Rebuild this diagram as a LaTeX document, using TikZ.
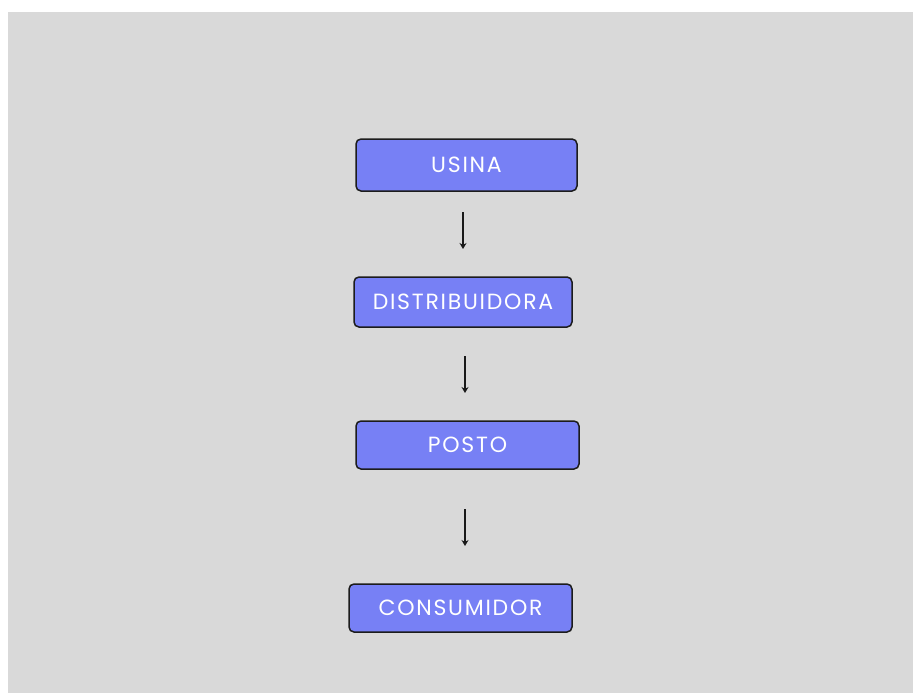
\documentclass[tikz,border=0pt]{standalone}
\usepackage{fontspec}
\setmainfont{Poppins}[LetterSpace=8]
\usetikzlibrary{arrows.meta}
\definecolor{bg}{HTML}{D9D9D9}
\definecolor{boxfill}{HTML}{7780F5}
\definecolor{boxline}{HTML}{1C1C1C}
\begin{document}
\begin{tikzpicture}[x=1pt,y=-1pt,
  stagebox/.style={draw=boxline,line width=1.5pt,fill=boxfill,rounded corners=5pt,
    text=white,font=\fontsize{22}{26}\selectfont,inner sep=0pt,anchor=center},
  flow/.style={line width=1.5pt,draw=black!90,-{Stealth[length=6pt,width=7pt]}}]
\useasboundingbox (0,0) rectangle (913,693);
\fill[white] (0,0) rectangle (913,693);
\fill[bg] (8,12) rectangle (913,693);
\node[stagebox,minimum width=221pt,minimum height=52pt] (usina) at (466.5,165) {USINA};
\node[stagebox,minimum width=218pt,minimum height=50pt] (dist) at (463,302) {DISTRIBUIDORA};
\node[stagebox,minimum width=223pt,minimum height=48pt] (posto) at (467.5,445) {POSTO};
\node[stagebox,minimum width=223pt,minimum height=48pt] (cons) at (460.5,608) {CONSUMIDOR};
\coordinate (a1s) at (463,212); \coordinate (a1e) at (463,249);
\coordinate (a2s) at (465,356); \coordinate (a2e) at (465,393);
\coordinate (a3s) at (465,509); \coordinate (a3e) at (465,546);
\draw[flow] (a1s) -- (a1e);
\draw[flow] (a2s) -- (a2e);
\draw[flow] (a3s) -- (a3e);
\end{tikzpicture}
\end{document}
